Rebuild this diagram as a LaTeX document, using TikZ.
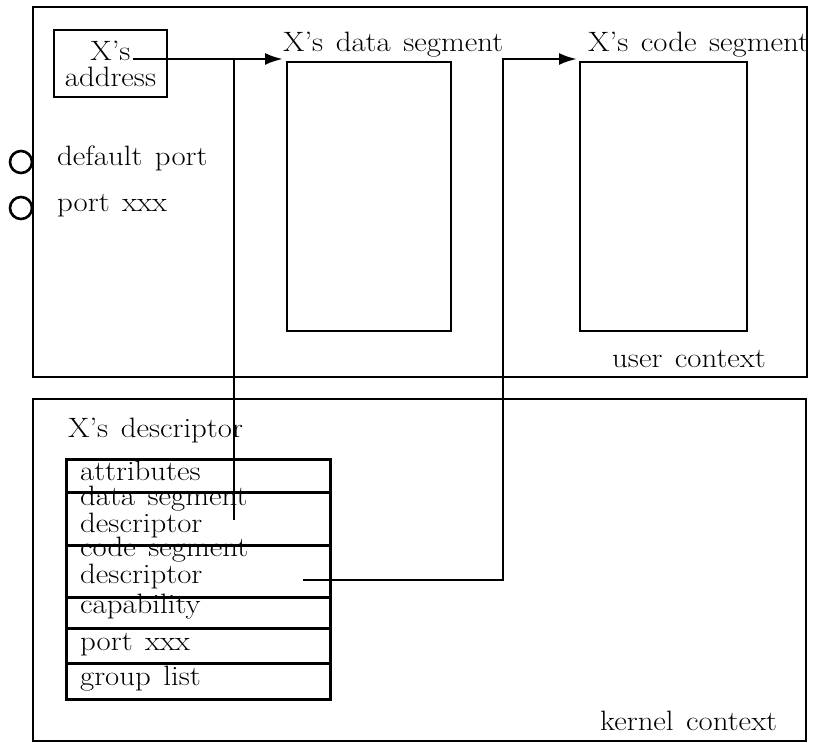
\documentclass[tikz,border=0pt]{standalone}
\usepackage{fontspec}
\setmainfont{Latin Modern Roman}[FakeStretch=1.1, WordSpace=1.35]
\usetikzlibrary{arrows.meta}

\tikzset{
  lbl/.style={inner sep=0pt, anchor=base west, font=\fontsize{28}{26}\selectfont},
  seg/.style={draw, line width=2.6pt, inner sep=0pt},
  row/.style={draw, line width=2.6pt, anchor=north west, minimum width=264pt, inner sep=0pt},
  cell/.style={lbl, align=left, font=\fontsize{28}{25}\selectfont},
  port/.style={draw, circle, line width=2.6pt, minimum size=22pt, inner sep=0pt},
  conn/.style={line width=2.6pt, >={Latex[length=18pt,width=12pt]}},
}

\begin{document}
\begin{tikzpicture}[x=1pt, y=-1pt]
\useasboundingbox (0,0) rectangle (813,743);
% the two contexts
\draw[line width=2.6pt] (33,7) rectangle (807,377);
\draw[line width=2.6pt] (33,399) rectangle (806,741);
\node[lbl] (userlbl) at (612,367) {user context};
\node[lbl] (kernlbl) at (600,730) {kernel context};

% user context
\node[seg, minimum width=113pt, minimum height=67pt, align=center,
  font=\fontsize{28}{26}\selectfont] (addr) at (110.5,63.5) {X's\\address};
\node[seg, minimum width=164pt, minimum height=269pt] (dataseg) at (369,196.5) {};
\node[seg, minimum width=167pt, minimum height=269pt] (codeseg) at (663.5,196.5) {};
\node[lbl] (datalbl) at (283,52) {X's data segment};
\node[lbl] (codelbl) at (588,52) {X's code segment};

\node[port] (defport) at (21,162) {};
\node[port] (xxxport) at (21,208) {};
\node[lbl] (deflbl) at (57,166) {default port};
\node[lbl] (xxxlbl) at (57,212) {port xxx};

% kernel context: the descriptor
\node[lbl] (desclbl) at (68,437) {X's descriptor};
\foreach \nm/\y/\ht/\base/\txt in {attr/458/33/480/attributes,
  dsd/491/53/532/{data segment\\descriptor},
  csd/544/52/583/{code segment\\descriptor},
  cap/596/31/613/capability,
  pxx/627/35/650/port xxx,
  grp/662/36/685/group list}
{
  \node[row, minimum height=\ht pt] (\nm) at (65,\y) {};
  \node[cell] (\nm txt) at (80,\base) {\txt};
}

% connectors
\coordinate (addrout) at (133,59);
\coordinate (datain) at (283,59);
\coordinate (dsdpin) at (234,520);
\coordinate (csdpin) at (303,580);
\coordinate (bend) at (503,59);
\coordinate (codein) at (577,59);
\draw[conn,->] (dsdpin) |- (datain);
\draw[conn] (addrout) -- (dsdpin |- datain);
\draw[conn,->] (csdpin) -| (bend) -- (codein);
\end{tikzpicture}
\end{document}
